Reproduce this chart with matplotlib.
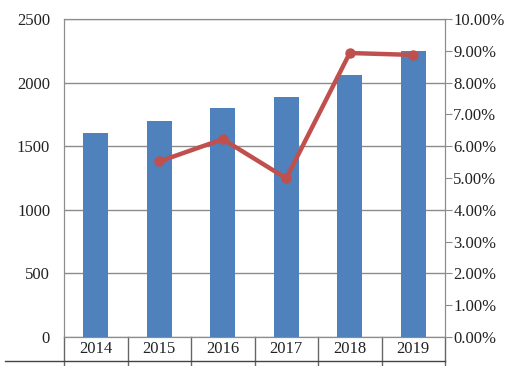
import matplotlib.pyplot as plt
import numpy as np
from matplotlib.ticker import FuncFormatter

years = ["2014", "2015", "2016", "2017", "2018", "2019"]
volume = [1600, 1695, 1800, 1890, 2060, 2245]
growth_years = ["2015", "2016", "2017", "2018", "2019"]
growth = [5.52, 6.22, 4.99, 8.93, 8.87]

plt.rcParams["font.family"] = ["Liberation Serif", "DejaVu Serif"]
plt.rcParams["font.size"] = 12

fig = plt.figure(figsize=(5.17, 3.66), dpi=100)
ax = fig.add_axes([64 / 517, 29 / 366, 381 / 517, 318 / 366])
x = np.arange(len(years))
ax.bar(x, volume, width=0.4, color="#4F81BD", zorder=3)
ax.set_xlim(-0.5, len(years) - 0.5)
ax.set_ylim(0, 2500)
ax.set_yticks(range(0, 2501, 500))
ax.yaxis.grid(True, color="#8c8c8c", linewidth=1)
ax.set_axisbelow(True)
ax.tick_params(axis="y", length=0, pad=10, colors="#222222")
ax.tick_params(axis="x", length=0, pad=3, colors="#222222")
ax.set_xticks(x)
ax.set_xticklabels(years)
for side in ["top", "bottom", "left", "right"]:
    ax.spines[side].set_color("#8c8c8c")

# table-style category cells below the axis
trans = ax.get_xaxis_transform()
for b in np.arange(len(years) + 1) - 0.5:
    ax.plot([b, b], [0, -0.1], transform=trans, color="#666666", lw=1, clip_on=False)
fig.add_artist(plt.Line2D([5 / 517, 445 / 517], [5 / 366, 5 / 366], color="#444444", lw=1))

ax2 = ax.twinx()
gx = [years.index(y) for y in growth_years]
ax2.plot(gx, growth, color="#C0504D", lw=3.2, marker="o", markersize=6.5, zorder=4)
ax2.set_ylim(0, 10)
ax2.set_yticks(range(0, 11))
ax2.yaxis.set_major_formatter(FuncFormatter(lambda v, p: f"{v:.2f}%"))
ax2.tick_params(axis="y", length=5, color="#8c8c8c", colors="#222222", pad=1)
for side in ["top", "bottom", "left", "right"]:
    ax2.spines[side].set_color("#8c8c8c")

fig.savefig("out.png", dpi=100)
